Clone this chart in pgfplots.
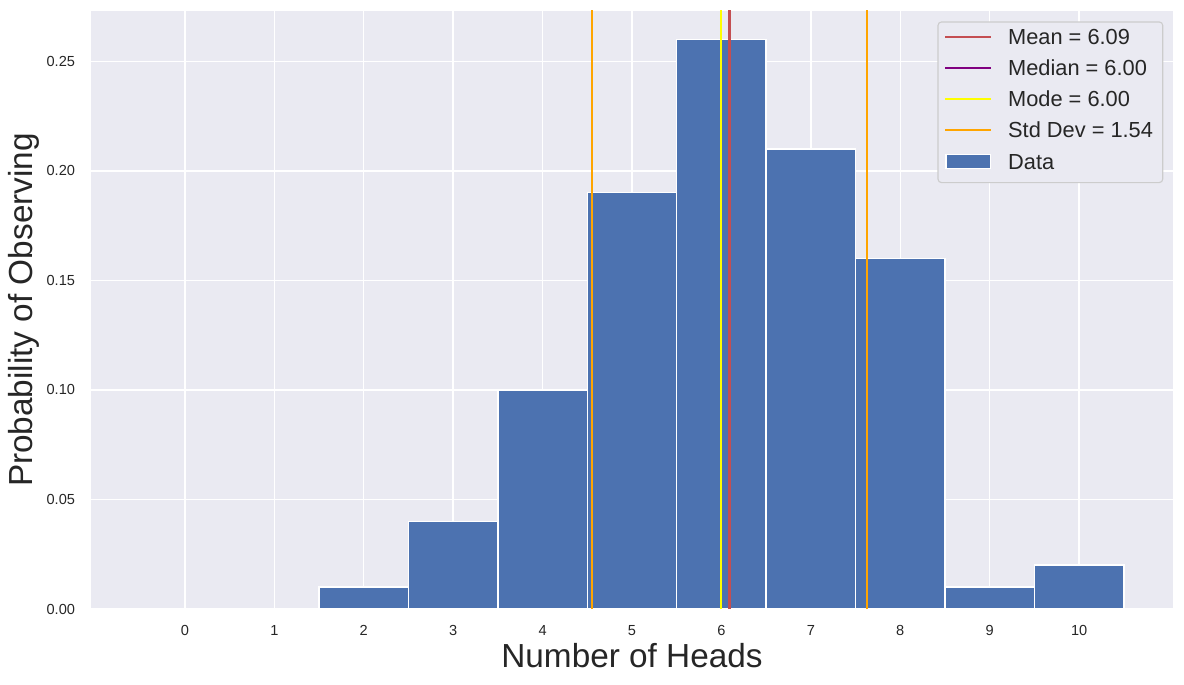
\documentclass[border=0pt]{standalone}
\usepackage{fontspec}
\setmainfont{Liberation Sans}
\usepackage{pgfplots}
\pgfplotsset{compat=1.18}
\definecolor{bgcol}{HTML}{EAEAF2}
\definecolor{barcol}{HTML}{4C72B0}
\definecolor{meancol}{HTML}{C44E52}
\definecolor{mediancol}{HTML}{800080}
\definecolor{modecol}{HTML}{FFFF00}
\definecolor{stdcol}{HTML}{FFA500}
\definecolor{txt}{HTML}{262626}
\pgfplotsset{
  barlegend/.style={legend image code/.code={\draw[##1, sharp corners] (0pt,-2.7pt) rectangle (32pt,7.3pt);}},
  linelegend/.style={legend image code/.code={\draw[##1, sharp corners, line width=1.5pt, line cap=rect] (0pt,2.3pt) -- (32pt,2.3pt);}},
}
\begin{document}
\begin{tikzpicture}
\begin{axis}[
  scale only axis,
  width=779.04pt, height=430.56pt,
  xmin=-1.05, xmax=11.05, ymin=0, ymax=0.273,
  axis background/.style={fill=bgcol},
  axis line style={draw=none},
  major tick length=0pt,
  tick style={draw=none},
  grid=major,
  major grid style={white, line width=1pt},
  xtick={0,1,...,10},
  ytick={0,0.05,0.1,0.15,0.2,0.25},
  scaled y ticks=false,
  yticklabel style={/pgf/number format/fixed, /pgf/number format/fixed zerofill, /pgf/number format/precision=2, xshift=-8pt},
  /pgf/number format/assume math mode=true,
  ticklabel style={font=\fontsize{10.5}{12}\selectfont, text=txt},
  xticklabel style={yshift=-8.3pt},
  xlabel={Number of Heads},
  ylabel={Probability of Observing},
  label style={font=\fontsize{24}{28}\selectfont, text=txt},
  xlabel style={at={(axis description cs:0.5,0)}, anchor=north, yshift=-24.6pt, inner sep=0pt},
  ylabel style={at={([xshift=-36.7pt]axis description cs:0,0.5)}, anchor=south, inner sep=0pt},
  legend style={
    at={([xshift=-7pt,yshift=-7.5pt]axis description cs:1,1)}, anchor=north east,
    fill=bgcol, draw=black!20, line width=0.8pt, rounded corners=2.5pt,
    inner xsep=5pt, inner ysep=5.5pt,
    font=\fontsize{15.7}{18}\selectfont, text=txt,
    row sep=7.45pt, column sep=12pt,
    nodes={inner sep=0pt, text height=10.9pt, text depth=4pt},
  },
  legend cell align=left,
  linelegend,
]
\addplot[ybar, bar width=1, bar shift=0pt, fill=barcol, draw=white, line width=1pt, forget plot]
  coordinates {(2,0.01) (3,0.04) (4,0.10) (5,0.19) (6,0.26) (7,0.21) (8,0.16) (9,0.01) (10,0.02)};
\addplot[meancol, line width=1.5pt] coordinates {(6.09,0) (6.09,0.3)};
\addlegendentry{Mean = 6.09}
\addplot[mediancol, line width=1.5pt] coordinates {(6.00,0) (6.00,0.3)};
\addlegendentry{Median = 6.00}
\addplot[modecol, line width=1.5pt] coordinates {(6.00,0) (6.00,0.3)};
\addlegendentry{Mode = 6.00}
\addplot[stdcol, line width=1.5pt] coordinates {(4.55,0) (4.55,0.3)};
\addlegendentry{Std Dev = 1.54\hspace*{2pt}}
\addplot[stdcol, line width=1.5pt, forget plot] coordinates {(7.63,0) (7.63,0.3)};
\addlegendimage{barlegend, fill=barcol, draw=white, line width=1pt}
\addlegendentry{Data}
\coordinate (sw) at (rel axis cs:0,0);
\coordinate (ne) at (rel axis cs:1,1);
\end{axis}
\pgfresetboundingbox
\path[use as bounding box] ([shift={(-65.52pt,-54pt)}]sw) rectangle ([shift={(7.92pt,7.92pt)}]ne);
\end{tikzpicture}
\end{document}
